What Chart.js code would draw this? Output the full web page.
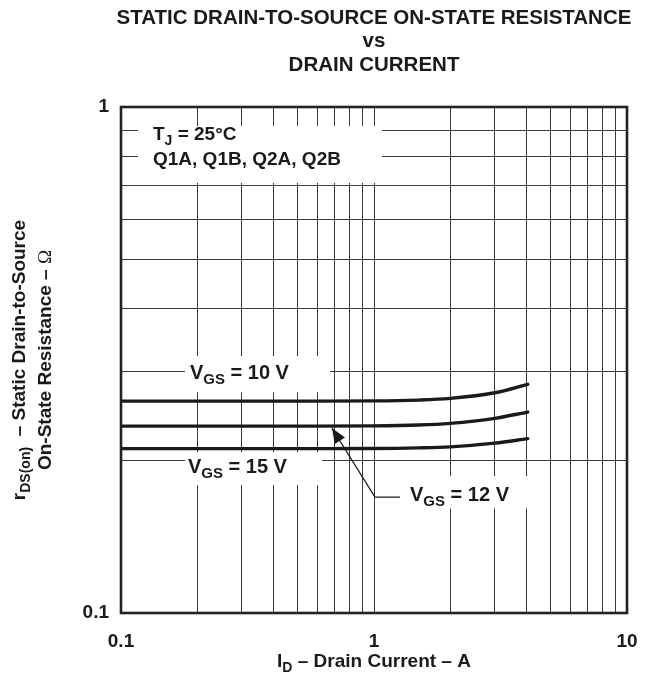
<!DOCTYPE html>
<html><head><meta charset="utf-8">
<script src="https://cdn.jsdelivr.net/npm/chart.js@4"></script>
<style>html,body{margin:0;padding:0;background:#fff;}</style>
</head><body>
<canvas id="c" width="652" height="676"></canvas>
<script>
// ---- data ----
const currentA  = [0.1, 0.2, 0.5, 1, 1.5, 2, 3, 4.05];
const rdsVgs10  = [0.2623, 0.2623, 0.2623, 0.2625, 0.2635, 0.2655, 0.2724, 0.2831];
const rdsVgs12  = [0.2341, 0.2341, 0.2341, 0.2343, 0.2352, 0.2370, 0.2425, 0.2495];
const rdsVgs15  = [0.2113, 0.2113, 0.2113, 0.2114, 0.2120, 0.2130, 0.2166, 0.2211];
const gridSignificands = [1, 2, 3, 4, 5, 6, 7, 8, 9];
const xTickLabels = ['0.1', '1', '10'];
const yTickLabels = ['0.1', '1'];
const titleLines = ['STATIC DRAIN-TO-SOURCE ON-STATE RESISTANCE', 'vs', 'DRAIN CURRENT'];

const FONT = '"Liberation Sans", Arial, Helvetica, sans-serif';
const INK = '#1a1a1a';

function pts(ys){ return currentA.map((x,i)=>({x:x, y:ys[i]})); }

function drawRich(ctx, parts, x, y, size, align){
  const subSize = Math.round(size*0.76);
  let total = 0;
  const widths = parts.map(p=>{
    ctx.font = (p.font ? p.font(p.sub?subSize:size) : 'bold '+(p.sub?subSize:size)+'px '+FONT);
    const w = ctx.measureText(p.t).width; total += w; return w;
  });
  let cx = align==='center' ? x-total/2 : (align==='right' ? x-total : x);
  ctx.textAlign='left'; ctx.textBaseline='middle';
  parts.forEach((p,i)=>{
    ctx.font = (p.font ? p.font(p.sub?subSize:size) : 'bold '+(p.sub?subSize:size)+'px '+FONT);
    ctx.fillText(p.t, cx, y + (p.sub ? size*0.32 : 0));
    cx += widths[i];
  });
}

const annotations = {
  boxes: [
    {x1:0.1167, x2:1.0755, y1:0.917, y2:0.708},
    {x1:0.179,  x2:0.670,  y1:0.322, y2:0.2733},
    {x1:0.179,  x2:0.623,  y1:0.208, y2:0.179},
    {x1:1.267,  x2:4.74,   y1:0.1866, y2:0.161}
  ],
  texts: [
    {x:0.1338, y:0.880, size:19, parts:[{t:'T'},{t:'J',sub:true},{t:' = 25°C'}]},
    {x:0.1338, y:0.786, size:19, parts:[{t:'Q1A, Q1B, Q2A, Q2B'}]},
    {x:0.1874, y:0.298, size:20, parts:[{t:'V'},{t:'GS',sub:true},{t:' = 10 V'}]},
    {x:0.184,  y:0.194, size:20, parts:[{t:'V'},{t:'GS',sub:true},{t:' = 15 V'}]},
    {x:1.388,  y:0.171, size:20, parts:[{t:'V'},{t:'GS',sub:true},{t:' = 12 V'}]}
  ],
  arrow: {tip:{x:0.682, y:0.232}, corner:{x:1.009, y:0.1695}, end:{x:1.267, y:0.1695}}
};

const decor = {
  id:'decor',
  beforeDatasetsDraw(chart){
    const ctx = chart.ctx, xs = chart.scales.x, ys = chart.scales.y;
    ctx.save();
    ctx.fillStyle = '#fff';
    annotations.boxes.forEach(b=>{
      const x1 = xs.getPixelForValue(b.x1), x2 = xs.getPixelForValue(b.x2);
      const y1 = ys.getPixelForValue(b.y1), y2 = ys.getPixelForValue(b.y2);
      ctx.fillRect(x1, y1, x2-x1, y2-y1);
    });
    ctx.fillStyle = INK;
    annotations.texts.forEach(t=>{
      drawRich(ctx, t.parts, xs.getPixelForValue(t.x), ys.getPixelForValue(t.y), t.size, 'left');
    });
    ctx.restore();
  },
  afterDatasetsDraw(chart){
    const ctx = chart.ctx, xs = chart.scales.x, ys = chart.scales.y, ca = chart.chartArea;
    ctx.save();
    const a = annotations.arrow;
    const tx = xs.getPixelForValue(a.tip.x), ty = ys.getPixelForValue(a.tip.y);
    const cx = xs.getPixelForValue(a.corner.x), cy = ys.getPixelForValue(a.corner.y);
    const ex = xs.getPixelForValue(a.end.x), ey = ys.getPixelForValue(a.end.y);
    ctx.strokeStyle = INK; ctx.lineWidth = 1.2;
    ctx.beginPath(); ctx.moveTo(ex, ey); ctx.lineTo(cx, cy); ctx.lineTo(tx, ty); ctx.stroke();
    const ang = Math.atan2(ty-cy, tx-cx), L = 15, W = 6;
    ctx.fillStyle = INK;
    ctx.beginPath();
    ctx.moveTo(tx, ty);
    ctx.lineTo(tx - L*Math.cos(ang) + W*Math.sin(ang), ty - L*Math.sin(ang) - W*Math.cos(ang));
    ctx.lineTo(tx - L*Math.cos(ang) - W*Math.sin(ang), ty - L*Math.sin(ang) + W*Math.cos(ang));
    ctx.closePath(); ctx.fill();
    ctx.strokeStyle = '#222'; ctx.lineWidth = 2.6;
    ctx.strokeRect(ca.left, ca.top, ca.right-ca.left, ca.bottom-ca.top);
    ctx.fillStyle = INK;
    const midX = (ca.left+ca.right)/2;
    ctx.font = 'bold 20.5px '+FONT; ctx.textAlign='center'; ctx.textBaseline='middle';
    titleLines.forEach((l,i)=>ctx.fillText(l, midX, 18 + i*23.5));
    drawRich(ctx, [{t:'I'},{t:'D',sub:true},{t:' – Drain Current – A'}], midX, 662, 19, 'center');
    const midY = (ca.top+ca.bottom)/2;
    ctx.translate(20, midY); ctx.rotate(-Math.PI/2);
    drawRich(ctx, [{t:'r'},{t:'DS(on)',sub:true},{t:'  – Static Drain-to-Source'}], 0, 0, 19, 'center');
    ctx.rotate(Math.PI/2); ctx.translate(-20, 0);
    ctx.translate(46, 0); ctx.rotate(-Math.PI/2);
    drawRich(ctx, [{t:'On-State Resistance – '},{t:'Ω', font:s=>'normal '+s+'px "Liberation Serif", serif'}], 0, 0, 19, 'center');
    ctx.restore();
  }
};

function tickCb(list){
  return function(v){
    const s = list.find(l=>Math.abs(parseFloat(l)-v) < 1e-9);
    return s ? s : '';
  };
}
function gridTicks(min, max){
  const out = [];
  for (let e = Math.floor(Math.log10(min)); e <= Math.ceil(Math.log10(max)); e++){
    gridSignificands.forEach(s=>{
      const v = parseFloat((s*Math.pow(10,e)).toPrecision(6));
      if (v >= min-1e-12 && v <= max+1e-12) out.push({value:v});
    });
  }
  return out;
}

const lineStyle = {borderColor:INK, borderWidth:3.4, pointRadius:0, fill:false,
                   cubicInterpolationMode:'monotone', borderCapStyle:'round'};

new Chart(document.getElementById('c'), {
  type:'line',
  data:{
    datasets:[
      Object.assign({label:'VGS = 10 V', data:pts(rdsVgs10)}, lineStyle),
      Object.assign({label:'VGS = 12 V', data:pts(rdsVgs12)}, lineStyle),
      Object.assign({label:'VGS = 15 V', data:pts(rdsVgs15)}, lineStyle)
    ]
  },
  options:{
    responsive:false, animation:false, devicePixelRatio:1,
    layout:{padding:{left:0, top:107, right:25, bottom:0}},
    plugins:{legend:{display:false}, tooltip:{enabled:false}, title:{display:false}},
    scales:{
      x:{type:'logarithmic', min:0.1, max:10,
         grid:{color:'#3a3a3a', lineWidth:1, drawTicks:false},
         border:{display:false},
         ticks:{autoSkip:false, maxRotation:0, padding:17, color:INK,
                font:{family:FONT, weight:'bold', size:19}, callback:tickCb(xTickLabels)},
         afterBuildTicks(s){ s.ticks = gridTicks(0.1, 10); },
         afterFit(s){ s.height = 63; s.paddingLeft = 0; s.paddingRight = 0; }},
      y:{type:'logarithmic', min:0.1, max:1,
         grid:{color:'#3a3a3a', lineWidth:1, drawTicks:false},
         border:{display:false},
         ticks:{autoSkip:false, padding:12, color:INK,
                font:{family:FONT, weight:'bold', size:19}, callback:tickCb(yTickLabels)},
         afterBuildTicks(s){ s.ticks = gridTicks(0.1, 1); },
         afterFit(s){ s.width = 121; s.paddingTop = 0; s.paddingBottom = 0; }}
    }
  },
  plugins:[decor]
});
</script>
</body></html>
